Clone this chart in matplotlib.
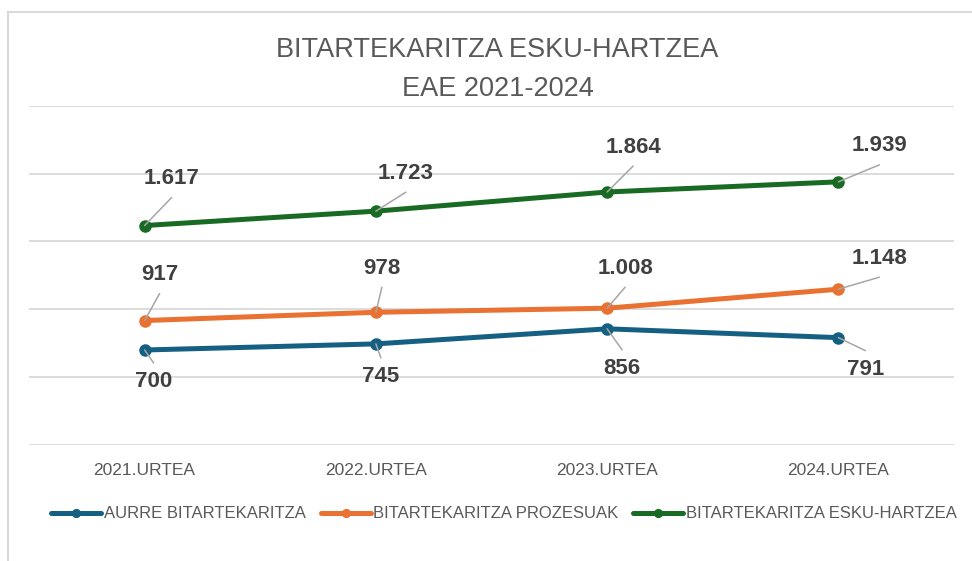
import matplotlib
matplotlib.use("Agg")
import matplotlib.pyplot as plt
from matplotlib.lines import Line2D

years = ["2021.URTEA", "2022.URTEA", "2023.URTEA", "2024.URTEA"]
series_names = ["AURRE BITARTEKARITZA", "BITARTEKARITZA PROZESUAK",
                "BITARTEKARITZA ESKU-HARTZEA"]
aurre = [700, 745, 856, 791]
prozesuak = [917, 978, 1008, 1148]
esku_hartzea = [1617, 1723, 1864, 1939]

colors = ["#156082", "#E97132", "#196B24"]
# desplazamiento de las etiquetas (pixeles) respecto al punto
label_offsets = [
    [(9, -32), (5, -33), (15, -40), (27, -32)],
    [(15, 46), (6, 44), (18, 40), (41, 31)],
    [(27, 47), (30, 38), (26, 45), (41, 36)],
]


def fmt(v):
    return f"{v:,}".replace(",", ".")


plt.rcParams["font.family"] = ["Liberation Sans", "DejaVu Sans"]

fig = plt.figure(figsize=(9.72, 5.61), dpi=100)
ax = fig.add_axes([29 / 972, 1 - 445 / 561, 925 / 972, (445 - 105.7) / 561])

x = list(range(len(years)))
for vals, name, col, offs in zip([aurre, prozesuak, esku_hartzea],
                                 series_names, colors, label_offsets):
    ax.plot(x, vals, color=col, lw=3.6, marker="o", ms=8,
            solid_capstyle="round", label=name, zorder=3)
    for xi, v, (dx, dy) in zip(x, vals, offs):
        ax.annotate(fmt(v), (xi, v), xytext=(dx, dy),
                    textcoords="offset pixels", ha="center", va="center",
                    fontsize=16, fontweight="bold", color="#404040", zorder=4)
        # linea guia hasta ~11 px del borde de la etiqueta
        end_dy = dy - 19 if dy > 0 else dy + 19
        ax.annotate("", (xi, v), xytext=(dx, end_dy),
                    textcoords="offset pixels",
                    arrowprops=dict(arrowstyle="-", color="#A6A6A6", lw=1.1,
                                    shrinkA=0, shrinkB=0), zorder=4)

ax.set_xlim(-0.5, 3.5)
ax.set_ylim(0, 2500)
ax.set_yticks([0, 500, 1000, 1500, 2000, 2500])
ax.set_yticklabels([])
ax.grid(axis="y", color="#D9D9D9", lw=1.3)
ax.set_axisbelow(True)
ax.tick_params(length=0)
ax.tick_params(axis="x", pad=13, labelsize=12.5, labelcolor="#595959")
ax.set_xticks(x)
ax.set_xticklabels(years)
for s in ax.spines.values():
    s.set_visible(False)

fig.text(0.512, 1 - 50 / 561, "BITARTEKARITZA ESKU-HARTZEA",
         ha="center", va="center", fontsize=19.5, color="#595959")
fig.text(0.512, 1 - 89 / 561, "EAE 2021-2024",
         ha="center", va="center", fontsize=19.5, color="#595959")

fig.legend(loc="center", bbox_to_anchor=(504 / 972, 1 - 514 / 561), ncol=3,
           frameon=False, fontsize=12, labelcolor="#595959",
           handlelength=3.0, handletextpad=0.15, columnspacing=0.9,
           markerscale=0.7)

# marco del grafico (solo lados superior e izquierdo visibles)
fig.add_artist(Line2D([8 / 972, 8 / 972], [0, 1 - 12 / 561],
                      transform=fig.transFigure, color="#D9D9D9", lw=1.5))
fig.add_artist(Line2D([8 / 972, 1], [1 - 12 / 561, 1 - 12 / 561],
                      transform=fig.transFigure, color="#D9D9D9", lw=1.5))

fig.savefig("out.png", dpi=100)
plt.close(fig)
